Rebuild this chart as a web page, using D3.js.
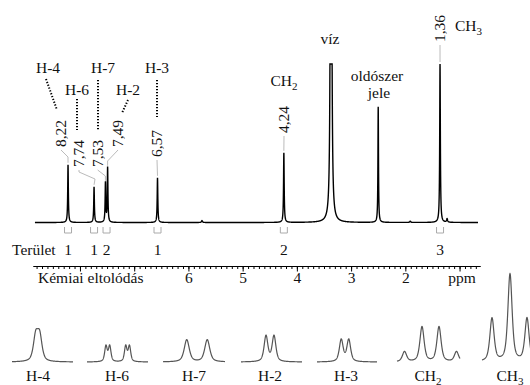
<!DOCTYPE html>
<html lang="hu">
<head>
  <meta charset="UTF-8">
  <title>1H NMR spektrum</title>
  <script src="https://d3js.org/d3.v7.min.js"></script>
  <style>
    body { margin: 0; background: #fff; }
    svg text { font-family: "Times New Roman", "Liberation Serif", "DejaVu Serif", "Noto Serif", Times, serif; font-size: 15.5px; fill: #111; }
  </style>
</head>
<body>
  <svg id="chart" width="530" height="385"></svg>
  <script>
    // Main spectrum peaks (ppm, intensity with CH3 = 100, half-width in ppm)
    const peakPpm    = [8.22, 7.74, 7.53, 7.49, 6.57, 4.24, 3.37, 2.50, 1.36, 5.75, 1.91, 1.23];
    const peakHeight = [36.4, 22.5, 25, 34.5, 28.2, 44, 2000, 73, 100, 1.2, 0.8, 2.2];
    const peakWidth  = [0.007, 0.007, 0.007, 0.007, 0.007, 0.007, 0.0047, 0.006, 0.007, 0.01, 0.01, 0.01];

    // Chemical shift labels
    const shiftText = ["8,22", "7,74", "7,53", "7,49", "6,57", "4,24", "1,36"];
    const shiftPpm  = [8.22, 7.74, 7.53, 7.49, 6.57, 4.24, 1.36];
    const shiftPeak = [0, 1, 2, 3, 4, 5, 8];

    // Integrals
    const integralPpm   = [8.22, 7.74, 7.51, 6.57, 4.24, 1.36];
    const integralValue = ["1", "1", "2", "1", "2", "3"];

    // Ruler ticks
    const majorTicks = [6, 5, 4, 3, 2];

    // Expanded multiplets (line offset in Hz, relative intensity)
    const insetNames = ["H-4", "H-6", "H-7", "H-2", "H-3", "CH2", "CH3"];
    const insetLines = [
      [[-0.8, 0.27], [0.8, 0.27]],
      [[-4.7, 0.17], [-3.2, 0.17], [3.2, 0.17], [4.7, 0.17]],
      [[-4.1, 0.24], [4.1, 0.24]],
      [[-1.6, 0.28], [1.6, 0.28]],
      [[-1.5, 0.24], [1.5, 0.24]],
      [[-10.4, 0.11], [-3.4, 0.38], [3.4, 0.38], [10.4, 0.11]],
      [[-7.2, 0.47], [0, 0.95], [6.8, 0.47]]
    ];
    const insetWidth = [1.1, 0.6, 1.2, 0.9, 0.9, 1.0, 1.0];

    const svg = d3.select("#chart");

    const x = d3.scaleLinear().domain([8.866, 0.623]).range([33, 480]);
    const y = d3.scaleLinear().domain([0, 100]).range([222.5, 64]);

    const lorentz = (d, w) => 1 / (1 + (d / w) * (d / w));

    // spectrum
    const grid = d3.range(0, 8171).map(i => 8.83 - i * 0.001);
    const spec = grid.map(p => {
      let v = 0;
      peakPpm.forEach((c, i) => { v += peakHeight[i] * lorentz(p - c, peakWidth[i]); });
      return [p, Math.min(v, 100)];
    });
    svg.append("path")
      .datum(spec)
      .attr("fill", "none")
      .attr("stroke", "#000")
      .attr("stroke-width", 1.4)
      .attr("d", d3.line().x(d => x(d[0])).y(d => y(d[1])));

    const peakTop = i => y(Math.min(peakHeight[i], 100));

    // shift labels with grey connectors
    const shiftLayout = [
      { tx: 61, ty: 147, bend: [[68, 157]] },
      { tx: 79, ty: 167, bend: [[95, 179], [79, 172]] },
      { tx: 97.7, ty: 167, bend: [[105.4, 176]] },
      { tx: 118, ty: 147, bend: [[107.6, 161]] },
      { tx: 157, ty: 157, bend: [] },
      { tx: 284, ty: 133, bend: [] },
      { tx: 440, ty: 42, bend: [] }
    ];
    shiftText.forEach((t, i) => {
      const L = shiftLayout[i];
      const px = x(shiftPpm[i]);
      const pts = [[px, peakTop(shiftPeak[i]) - 2]];
      L.bend.forEach(b => pts.push(b));
      pts.push([L.tx, L.ty + 3]);
      svg.append("path")
        .attr("d", d3.line()(pts))
        .attr("fill", "none")
        .attr("stroke", "#bbb")
        .attr("stroke-width", 1);
      svg.append("text")
        .attr("transform", `translate(${L.tx},${L.ty}) rotate(-90)`)
        .attr("dy", "0.35em")
        .text(t);
    });

    // proton labels with dotted leaders
    const hNames = ["H-4", "H-6", "H-7", "H-2", "H-3"];
    const hPos = [[48, 73], [77, 95], [103, 73], [128, 95], [157, 73]];
    const hDots = [[46, 79, 57, 110], [77, 99, 77, 130], [98, 80, 98, 130], [128, 100, 122, 113], [157, 80, 157, 117]];
    hNames.forEach((n, i) => {
      svg.append("text").attr("x", hPos[i][0]).attr("y", hPos[i][1])
        .attr("text-anchor", "middle").text(n);
      const d = hDots[i];
      svg.append("line")
        .attr("x1", d[0]).attr("y1", d[1]).attr("x2", d[2]).attr("y2", d[3])
        .attr("stroke", "#000").attr("stroke-width", 2)
        .attr("stroke-dasharray", "1.3,1.7");
    });

    function chem(sel, base, sub) {
      sel.append("tspan").text(base);
      sel.append("tspan").attr("dy", 3.5).style("font-size", "11px").text(sub);
    }
    chem(svg.append("text").attr("x", 284).attr("y", 86).attr("text-anchor", "middle"), "CH", "2");
    chem(svg.append("text").attr("x", 455).attr("y", 31), "CH", "3");
    svg.append("text").attr("x", 330).attr("y", 44).attr("text-anchor", "middle").text("víz");
    svg.append("text").attr("x", 377).attr("y", 81).attr("text-anchor", "middle").text("oldószer");
    svg.append("text").attr("x", 379).attr("y", 98).attr("text-anchor", "middle").text("jele");

    // integrals
    integralPpm.forEach((p, i) => {
      const cx = x(p);
      svg.append("path")
        .attr("d", `M${cx - 3.5},227V233H${cx + 3.5}V227`)
        .attr("fill", "none").attr("stroke", "#aaa").attr("stroke-width", 1);
      svg.append("text").attr("x", cx).attr("y", 255)
        .attr("text-anchor", "middle").text(integralValue[i]);
    });
    svg.append("text").attr("x", 12).attr("y", 255).text("Terület");

    // ruler
    const minor = d3.range(88, 6, -1).map(v => v / 10);
    const ruler = svg.append("g").attr("transform", "translate(0,266)");
    ruler.call(d3.axisBottom(x).tickValues(minor).tickSize(3).tickSizeOuter(0).tickFormat(""));
    ruler.append("g").call(d3.axisBottom(x).tickValues(d3.range(8, 0, -1)).tickSize(5.5).tickSizeOuter(0)
      .tickFormat(d => majorTicks.includes(d) ? d : ""));
    ruler.selectAll("path.domain").attr("stroke", "#000");
    ruler.selectAll("line").attr("stroke", "#000");
    ruler.selectAll("g").attr("font-family", null).attr("font-size", null);
    ruler.selectAll("text").attr("y", 17).attr("dy", 0).attr("fill", "#111");
    svg.append("text").attr("x", 38).attr("y", 283).text("Kémiai eltolódás");
    svg.append("text").attr("x", 462).attr("y", 283).attr("text-anchor", "middle").text("ppm");

    // expanded multiplets
    const panelCenter = [37.7, 117.7, 197, 270, 345, 430.5, 510];
    const panelSpan   = [[12, 73], [87, 148], [163, 225], [241, 302], [317, 377], [397, 460], [482, 545]];
    const labelX      = [38, 117, 194, 270, 346, 428, 510];
    const pxPerHz = 2.5;
    const yi = d3.scaleLinear().domain([0, 1]).range([362, 270]);
    const pv = (d, w) => 0.6 * lorentz(d, w) + 0.4 * Math.exp(-Math.LN2 * (d / w) * (d / w));

    insetNames.forEach((name, k) => {
      const xi = d3.scaleLinear().domain([-1, 1]).range([panelCenter[k] - pxPerHz, panelCenter[k] + pxPerHz]);
      const lo = xi.invert(panelSpan[k][0]), hi = xi.invert(panelSpan[k][1]);
      const pts = d3.range(lo, hi + 0.001, 0.04).map(h => {
        let v = 0;
        insetLines[k].forEach(l => { v += l[1] * pv(h - l[0], insetWidth[k]); });
        return [h, v];
      });
      svg.append("path").datum(pts)
        .attr("fill", "none").attr("stroke", "#555").attr("stroke-width", 1.2)
        .attr("d", d3.line().x(d => xi(d[0])).y(d => yi(d[1])));
      const t = svg.append("text").attr("x", labelX[k]).attr("y", 381).attr("text-anchor", "middle");
      if (name.startsWith("CH")) chem(t, "CH", name.slice(2));
      else t.text(name);
    });
  </script>
</body>
</html>
